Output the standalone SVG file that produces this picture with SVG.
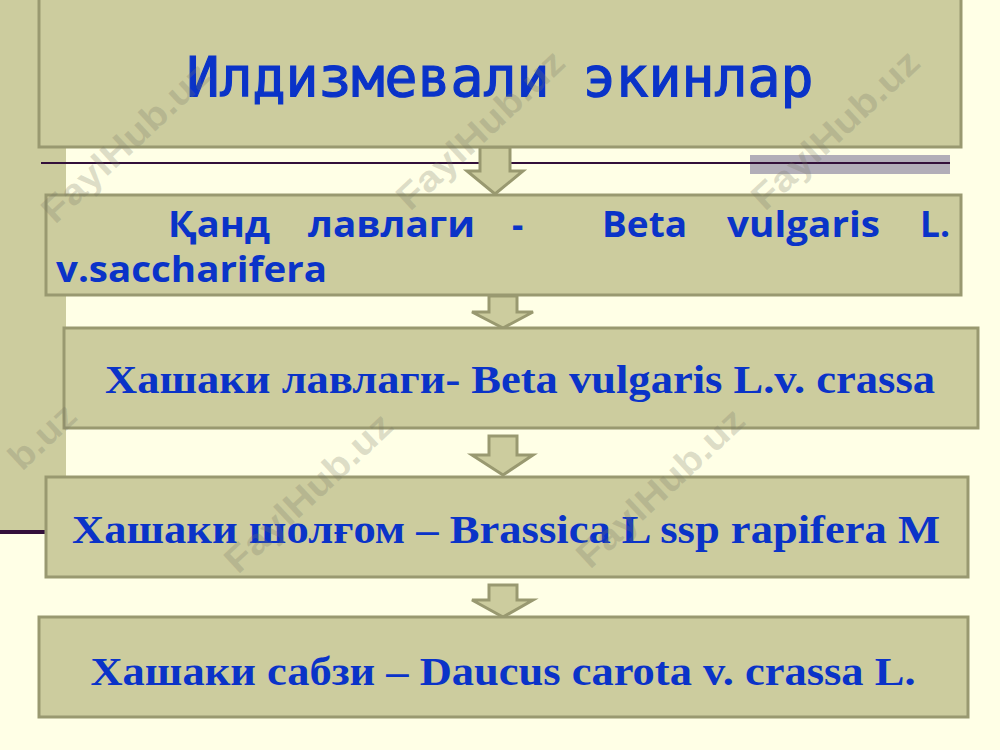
<svg xmlns="http://www.w3.org/2000/svg" width="1000" height="750" viewBox="0 0 1000 750">
<style>
.box{fill:#CCCC9E;stroke:#999970;stroke-width:3}
.arr{fill:#CCCC9E;stroke:#999970;stroke-width:3;stroke-linejoin:miter}
.t1{font-family:"DejaVu Sans Mono",monospace;font-size:55px;fill:#0A33C8;stroke:#0A33C8;stroke-width:1.2}
.t2{font-family:"Open Sans","Noto Sans",sans-serif;font-weight:bold;font-size:35px;fill:#0A33C8}
.t3{font-family:"Liberation Serif","Times New Roman",serif;font-weight:bold;font-size:39px;fill:#0A33C8}
.wm{font-family:"Liberation Sans",Arial,sans-serif;font-weight:bold;font-size:36px;fill:#777766;fill-opacity:0.25}
</style>
<rect x="0" y="0" width="1000" height="750" fill="#FFFFE6"/>
<rect x="0" y="0" width="66" height="530" fill="#CCCC9E"/>
<rect x="750" y="155" width="200" height="19" fill="#B2AEB8"/>
<line x1="41" y1="163" x2="950" y2="163" stroke="#33103A" stroke-width="2"/>
<line x1="0" y1="532" x2="46" y2="532" stroke="#33103A" stroke-width="4"/>

<g id="connectors">
<polygon class="arr" points="480,147 510,147 510,171 523,171 495,194 467,171 480,171"/>
<polygon class="arr" points="489,296 517,296 517,312 533,312 503,328 472,312 489,312"/>
<polygon class="arr" points="489,436 517,436 517,455 533,455 503,475 472,455 489,455"/>
<polygon class="arr" points="489,585 517,585 517,600 533,600 503,617 472,600 489,600"/>
</g>

<g id="title">
<rect class="box" x="39" y="-2" width="922" height="149"/>
<text class="t1" x="500" y="96" text-anchor="middle" textLength="627" lengthAdjust="spacingAndGlyphs">Илдизмевали экинлар</text>
</g>

<g id="node1">
<rect class="box" x="46" y="195" width="915" height="100"/>
<text class="t2" y="237"><tspan x="168" textLength="102" lengthAdjust="spacingAndGlyphs">Қанд</tspan><tspan x="308" textLength="167" lengthAdjust="spacingAndGlyphs">лавлаги</tspan><tspan x="512">-</tspan><tspan x="602" textLength="85" lengthAdjust="spacingAndGlyphs">Beta</tspan><tspan x="727" textLength="153" lengthAdjust="spacingAndGlyphs">vulgaris</tspan><tspan x="920" textLength="30" lengthAdjust="spacingAndGlyphs">L.</tspan></text>
<text class="t2" x="56" y="282" textLength="271" lengthAdjust="spacingAndGlyphs">v.saccharifera</text>
</g>

<g id="node2">
<rect class="box" x="64" y="328" width="914" height="100"/>
<text class="t3" x="520" y="393" text-anchor="middle" textLength="830" lengthAdjust="spacingAndGlyphs">Хашаки лавлаги- Beta vulgaris L.v. crassa</text>
</g>

<g id="node3">
<rect class="box" x="46" y="477" width="922" height="100"/>
<text class="t3" x="506" y="543" text-anchor="middle" textLength="868" lengthAdjust="spacingAndGlyphs">Хашаки шолғом – Brassica L ssp rapifera M</text>
</g>

<g id="node4">
<rect class="box" x="39" y="617" width="929" height="100"/>
<text class="t3" x="503" y="685" text-anchor="middle" textLength="825" lengthAdjust="spacingAndGlyphs">Хашаки сабзи – Daucus carota v. crassa L.</text>
</g>

<g id="watermarks">
<text class="wm" transform="translate(55,225) rotate(-43)" textLength="215" lengthAdjust="spacingAndGlyphs">FaylHub.uz</text>
<text class="wm" transform="translate(410,212) rotate(-43)" textLength="215" lengthAdjust="spacingAndGlyphs">FaylHub.uz</text>
<text class="wm" transform="translate(765,212) rotate(-43)" textLength="215" lengthAdjust="spacingAndGlyphs">FaylHub.uz</text>
<text class="wm" transform="translate(22,472) rotate(-43)" textLength="78" lengthAdjust="spacingAndGlyphs">b.uz</text>
<text class="wm" transform="translate(238,575) rotate(-43)" textLength="215" lengthAdjust="spacingAndGlyphs">FaylHub.uz</text>
<text class="wm" transform="translate(590,570) rotate(-43)" textLength="215" lengthAdjust="spacingAndGlyphs">FaylHub.uz</text>
</g>
</svg>
